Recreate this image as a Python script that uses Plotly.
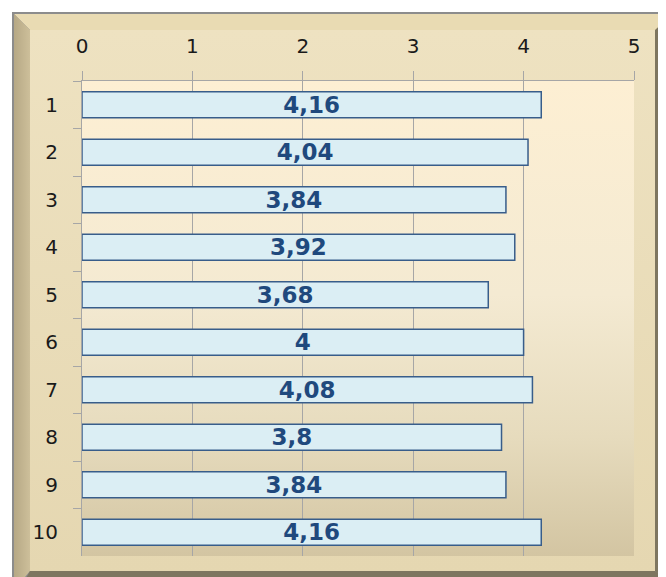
import base64
import plotly.graph_objects as go

categories = ["1", "2", "3", "4", "5", "6", "7", "8", "9", "10"]
values = [4.16, 4.04, 3.84, 3.92, 3.68, 4, 4.08, 3.8, 3.84, 4.16]
x_ticks = [0, 1, 2, 3, 4, 5]

labels = [f"{v:g}".replace(".", ",") for v in values]

# page body has an 8px margin, so the figure is drawn 8px smaller and offset
OFF = 8
W, H = 666 - OFF, 577 - OFF
L, T, R, B = 82 - OFF, 81 - OFF, 32, 21
PW, PH = W - L - R, H - T - B


def p(x, y):
    return f"{x - OFF},{y - OFF}"


svg = f'''<svg xmlns="http://www.w3.org/2000/svg" width="{W}" height="{H}" viewBox="0 0 {W} {H}">
<defs>
<linearGradient id="fr" x1="0" y1="0" x2="0" y2="1"><stop offset="0" stop-color="#eee2c1"/><stop offset="1" stop-color="#e5d7b1"/></linearGradient>
<linearGradient id="lb" x1="0" y1="0" x2="1" y2="0"><stop offset="0" stop-color="#b6a885"/><stop offset="1" stop-color="#cdbf9a"/></linearGradient>
<linearGradient id="pa" x1="0" y1="0" x2="0" y2="1"><stop offset="0" stop-color="#fdefd3"/><stop offset="0.45" stop-color="#f4ead2"/><stop offset="0.75" stop-color="#e6dbbd"/><stop offset="1" stop-color="#d3c5a2"/></linearGradient>
</defs>
<rect x="{12 - OFF}" y="{12 - OFF}" width="700" height="600" fill="#8c8c8c"/>
<polygon points="{p(14,14)} {p(700,14)} {p(672,30)} {p(30,30)}" fill="#e9dbb3"/>
<polygon points="{p(14,14)} {p(30,30)} {p(30,571)} {p(14,590)}" fill="url(#lb)"/>
<polygon points="{p(655,30)} {p(672,14)} {p(700,14)} {p(700,600)} {p(655,571)}" fill="#7e7660"/>
<polygon points="{p(30,571)} {p(655,571)} {p(700,600)} {p(14,600)}" fill="#7e7660"/>
<rect x="{30 - OFF}" y="{30 - OFF}" width="625" height="541" fill="url(#fr)"/>
<rect x="{L}" y="{T}" width="{PW}" height="{PH}" fill="url(#pa)"/>
</svg>'''
src = "data:image/svg+xml;base64," + base64.b64encode(svg.encode()).decode()

fig = go.Figure()
fig.add_trace(go.Bar(
    x=values, y=categories, orientation="h",
    marker=dict(color="#dbeef4", line=dict(color="#385d8a", width=1.5)),
    text=labels, textposition="inside", insidetextanchor="middle",
    textangle=0, constraintext="none",
    textfont=dict(family="DejaVu Sans", size=23, color="#1f497d", weight="bold"),
    hoverinfo="skip",
))

fig.update_layout(
    width=W, height=H,
    margin=dict(l=L, r=R, t=T, b=B, pad=0),
    paper_bgcolor="white", plot_bgcolor="rgba(0,0,0,0)",
    showlegend=False, bargap=0.45,
    images=[dict(source=src, xref="paper", yref="paper",
                 x=-L / PW, y=1 + T / PH, sizex=W / PW, sizey=H / PH,
                 xanchor="left", yanchor="top", sizing="stretch", layer="below")],
    xaxis=dict(range=[0, 5], side="top", tickvals=x_ticks, ticktext=[str(t) for t in x_ticks],
               showgrid=True, gridcolor="#a6a6a6", gridwidth=1,
               showline=True, linecolor="#a6a6a6", linewidth=1,
               ticks="outside", ticklen=9, tickcolor="#a6a6a6",
               zeroline=False, ticklabelstandoff=10,
               tickfont=dict(family="DejaVu Sans", size=20, color="#1a1a1a")),
    yaxis=dict(type="category", categoryorder="array", categoryarray=categories,
               autorange="reversed", showgrid=False,
               showline=True, linecolor="#a6a6a6", linewidth=1,
               ticks="outside", ticklen=8, tickcolor="#a6a6a6", tickson="boundaries",
               ticklabelstandoff=19,
               tickfont=dict(family="DejaVu Sans", size=20, color="#1a1a1a")),
)

fig.write_html("out.html")
